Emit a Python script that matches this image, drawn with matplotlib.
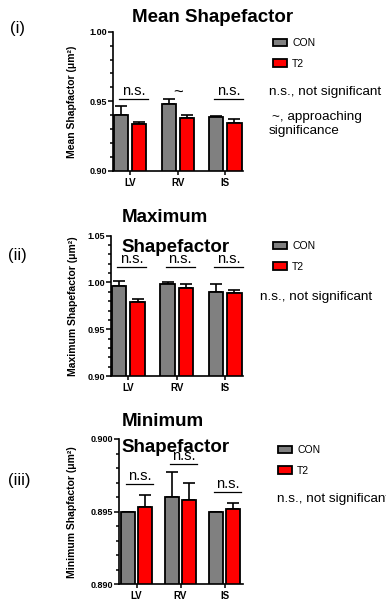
import numpy as np
import matplotlib
matplotlib.use("Agg")
from matplotlib import pyplot as plt

plt.rcParams['font.family'] = ['Liberation Sans', 'DejaVu Sans']

CATEGORIES = ["LV", "RV", "IS"]
GROUPS = ["CON", "T2"]

MEAN_CON = [0.9400, 0.9478, 0.9389]
MEAN_CON_ERR = [0.0065, 0.0036, 0.0009]
MEAN_T2 = [0.9335, 0.9379, 0.9346]
MEAN_T2_ERR = [0.0019, 0.0026, 0.0029]

MAX_CON = [0.9957, 0.9982, 0.9900]
MAX_CON_ERR = [0.0061, 0.0018, 0.0086]
MAX_T2 = [0.9786, 0.9943, 0.9889]
MAX_T2_ERR = [0.0035, 0.0043, 0.0032]

MIN_CON = [0.8950, 0.89599, 0.8950]
MIN_CON_ERR = [0.0, 0.00174, 0.0]
MIN_T2 = [0.89534, 0.89583, 0.89518]
MIN_T2_ERR = [0.00083, 0.00114, 0.00039]

# significance marks above each group: (label, height of underline)
MEAN_SIG = ["n.s.", "~", "n.s."]
MEAN_SIG_Y = [0.9517, 0.9560, 0.9517]
MAX_SIG = ["n.s.", "n.s.", "n.s."]
MAX_SIG_Y = [1.0165, 1.0165, 1.0165]
MIN_SIG = ["n.s.", "n.s.", "n.s."]
MIN_SIG_Y = [0.8969, 0.89828, 0.89635]

GREY = "#808080"
RED = "#ff0000"
NOTE_SIZE = 9.7

W, H = 386, 602
fig = plt.figure(figsize=(W / 100, H / 100), dpi=100)


def px_axes(left, right, top, bottom):
    return fig.add_axes([left / W, 1 - bottom / H, (right - left) / W, (bottom - top) / H])


def draw_panel(ax, con, con_err, t2, t2_err, ylim, major, minor, fmt, ylabel, sig, sig_y, xlim, half=0.19, width=0.3):
    x = np.arange(len(CATEGORIES))
    b1 = ax.bar(x - half, con, width, color=GREY, edgecolor="black", linewidth=1.3, label=GROUPS[0], zorder=2)
    b2 = ax.bar(x + half, t2, width, color=RED, edgecolor="black", linewidth=1.3, label=GROUPS[1], zorder=2)
    ax.errorbar(x - half, con, yerr=[np.zeros(len(con)), con_err], fmt="none", ecolor="black",
                elinewidth=1.2, capsize=4, capthick=1.2, zorder=1, clip_on=False)
    ax.errorbar(x + half, t2, yerr=[np.zeros(len(t2)), t2_err], fmt="none", ecolor="black",
                elinewidth=1.2, capsize=4, capthick=1.2, zorder=1, clip_on=False)
    ax.set_ylim(*ylim)
    ax.set_xlim(*xlim)
    ax.set_yticks(major)
    ax.set_yticks(minor, minor=True)
    ax.set_yticklabels([fmt.format(v) for v in major], fontsize=6.5, fontweight="bold")
    ax.set_xticks(x)
    ax.set_xticklabels(CATEGORIES, fontsize=7, fontweight="bold")
    for s in ["top", "right"]:
        ax.spines[s].set_visible(False)
    for s in ["left", "bottom"]:
        ax.spines[s].set_linewidth(1.2)
    ax.tick_params(axis="y", which="major", length=3.5, width=1.1, pad=1)
    ax.tick_params(axis="y", which="minor", length=2.5, width=1.1)
    ax.tick_params(axis="x", length=3, width=1.1, pad=2)
    ax.set_ylabel(ylabel, fontsize=7.5, fontweight="bold")
    for i, (lab, yy) in enumerate(zip(sig, sig_y)):
        if lab == "~":
            ax.text(x[i], yy, lab, ha="center", va="center", fontsize=12)
        else:
            ax.plot([x[i] - 0.3 + 0.07, x[i] + 0.3 + 0.07], [yy, yy], color="black", lw=0.9, clip_on=False)
            ax.annotate(lab, (x[i] + 0.07, yy), xytext=(0, 0.5), textcoords="offset points",
                        ha="center", va="bottom", fontsize=10.5)
    return b1, b2


def legend_at(handles, x, y):
    fig.legend(handles, GROUPS, loc="upper left", bbox_to_anchor=(x / W, 1 - y / H), frameon=False,
               fontsize=7.5, handlelength=1.35, handleheight=0.75, handletextpad=0.5,
               labelspacing=1.05, borderpad=0, borderaxespad=0)


# (i) Mean
ax1 = px_axes(113, 243, 31.7, 171)
h = draw_panel(ax1, MEAN_CON, MEAN_CON_ERR, MEAN_T2, MEAN_T2_ERR, (0.90, 1.00),
               [0.90, 0.95, 1.00], np.arange(0.90, 1.0001, 0.01), "{:.2f}",
               "Mean Shapfactor (\u03bcm\u00b2)", MEAN_SIG, MEAN_SIG_Y, (-0.36, 2.37))
ax1.yaxis.set_label_coords(-0.28, 0.5)
fig.text(213 / W, 1 - 17 / H, "Mean Shapefactor", ha="center", va="center", fontsize=13.5, fontweight="bold")
fig.text(10 / W, 1 - 29 / H, "(i)", ha="left", va="center", fontsize=12)
legend_at(h, 273, 38)
fig.text(269 / W, 1 - 92 / H, "n.s., not significant", ha="left", va="center", fontsize=NOTE_SIZE)
fig.text(272 / W, 1 - 117 / H, "~, approaching", ha="left", va="center", fontsize=NOTE_SIZE)
fig.text(269 / W, 1 - 131 / H, "significance", ha="left", va="center", fontsize=NOTE_SIZE)

# (ii) Maximum
ax2 = px_axes(111, 243, 235.7, 376)
h = draw_panel(ax2, MAX_CON, MAX_CON_ERR, MAX_T2, MAX_T2_ERR, (0.90, 1.05),
               [0.90, 0.95, 1.00, 1.05], np.arange(0.90, 1.0501, 0.01), "{:.2f}",
               "Maximum Shapefactor (\u03bcm\u00b2)", MAX_SIG, MAX_SIG_Y, (-0.36, 2.37))
ax2.yaxis.set_label_coords(-0.25, 0.5)
fig.text(122 / W, 1 - 218 / H, "Maximum", ha="left", va="center", fontsize=13.5, fontweight="bold")
fig.text(121 / W, 1 - 247 / H, "Shapefactor", ha="left", va="center", fontsize=13.5, fontweight="bold")
fig.text(8 / W, 1 - 255 / H, "(ii)", ha="left", va="center", fontsize=12)
legend_at(h, 273, 241)
fig.text(260 / W, 1 - 297 / H, "n.s., not significant", ha="left", va="center", fontsize=NOTE_SIZE)

# (iii) Minimum
ax3 = px_axes(119, 243, 439, 584.3)
h = draw_panel(ax3, MIN_CON, MIN_CON_ERR, MIN_T2, MIN_T2_ERR, (0.890, 0.900),
               [0.890, 0.895, 0.900], np.arange(0.890, 0.9001, 0.001), "{:.3f}",
               "Minimum Shapfactor (\u03bcm\u00b2)", MIN_SIG, MIN_SIG_Y, (-0.40, 2.42), half=0.19, width=0.31)
ax3.yaxis.set_label_coords(-0.34, 0.5)
fig.text(122 / W, 1 - 421 / H, "Minimum", ha="left", va="center", fontsize=13.5, fontweight="bold")
fig.text(121 / W, 1 - 447 / H, "Shapefactor", ha="left", va="center", fontsize=13.5, fontweight="bold")
fig.text(8 / W, 1 - 480 / H, "(iii)", ha="left", va="center", fontsize=12)
legend_at(h, 278, 445)
fig.text(277 / W, 1 - 499 / H, "n.s., not significant", ha="left", va="center", fontsize=NOTE_SIZE)

fig.savefig("out.png", dpi=100)
